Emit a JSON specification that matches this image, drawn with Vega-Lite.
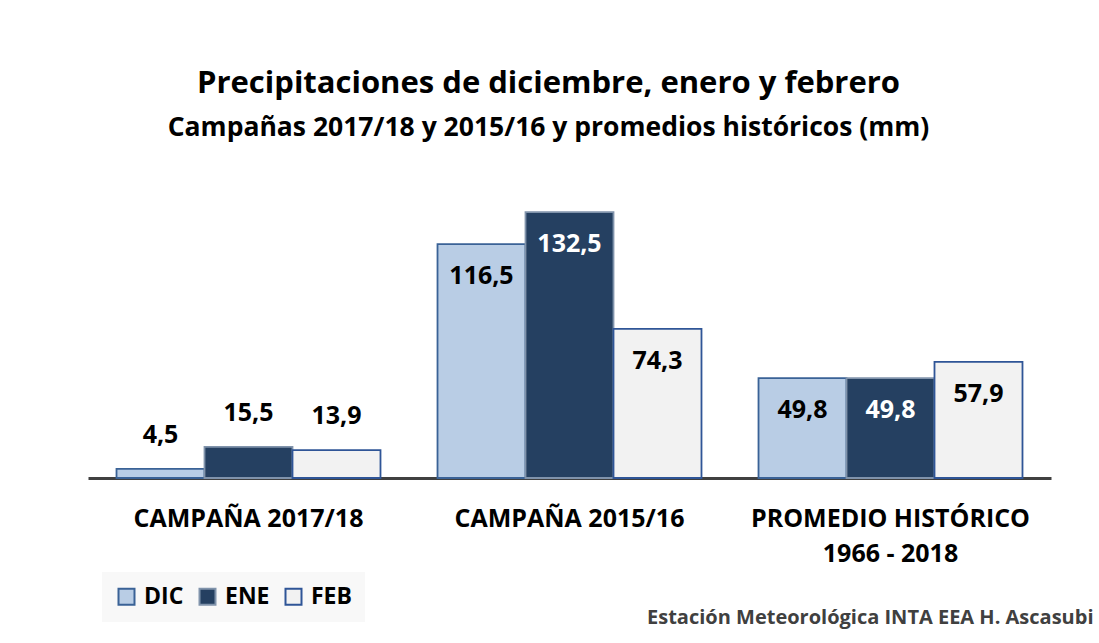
{
  "$schema": "https://vega.github.io/schema/vega-lite/v6.json",
  "width": 963,
  "height": 281,
  "autosize": {"type": "none"},
  "padding": {"left": 88, "top": 197, "right": 48, "bottom": 165},
  "background": "white",
  "title": {
    "text": "Precipitaciones de diciembre, enero y febrero",
    "subtitle": "Campañas 2017/18 y 2015/16 y promedios históricos (mm)",
    "anchor": "middle",
    "frame": "group",
    "dx": -21,
    "offset": 55,
    "font": "Open Sans",
    "fontSize": 31,
    "fontWeight": "bold",
    "color": "#000000",
    "subtitleFont": "Open Sans",
    "subtitleFontSize": 26.5,
    "subtitleFontWeight": "bold",
    "subtitleColor": "#000000",
    "subtitlePadding": 15
  },
  "data": {
    "values": [
      {"grupo": "CAMPAÑA 2017/18", "serie": "DIC", "valor": 4.5},
      {"grupo": "CAMPAÑA 2017/18", "serie": "ENE", "valor": 15.5},
      {"grupo": "CAMPAÑA 2017/18", "serie": "FEB", "valor": 13.9},
      {"grupo": "CAMPAÑA 2015/16", "serie": "DIC", "valor": 116.5},
      {"grupo": "CAMPAÑA 2015/16", "serie": "ENE", "valor": 132.5},
      {"grupo": "CAMPAÑA 2015/16", "serie": "FEB", "valor": 74.3},
      {"grupo": "PROMEDIO HISTÓRICO|1966 - 2018", "serie": "DIC", "valor": 49.8},
      {"grupo": "PROMEDIO HISTÓRICO|1966 - 2018", "serie": "ENE", "valor": 49.8},
      {"grupo": "PROMEDIO HISTÓRICO|1966 - 2018", "serie": "FEB", "valor": 57.9}
    ]
  },
  "encoding": {
    "x": {
      "field": "grupo",
      "type": "nominal",
      "sort": null,
      "scale": {"paddingInner": 0, "paddingOuter": 0},
      "axis": {
        "labelAngle": 0,
        "labelExpr": "split(datum.label, '|')",
        "labelLimit": 0,
        "labelFont": "Open Sans",
        "labelFontSize": 25,
        "labelFontWeight": "bold",
        "labelColor": "#000000",
        "labelPadding": 28,
        "labelLineHeight": 35,
        "labelBaseline": "top",
        "ticks": false,
        "domain": true,
        "domainColor": "#404040",
        "domainWidth": 3,
        "grid": false,
        "title": "Estación Meteorológica INTA EEA H. Ascasubi",
        "titleFont": "Open Sans",
        "titleFontSize": 20,
        "titleFontWeight": "bold",
        "titleColor": "#404040",
        "titleAlign": "right",
        "titleAnchor": "end",
        "titleX": 1005,
        "titleY": 145,
        "titleBaseline": "alphabetic"
      }
    },
    "xOffset": {
      "field": "serie",
      "type": "nominal",
      "sort": ["DIC", "ENE", "FEB"],
      "scale": {"paddingInner": 0, "paddingOuter": 0.324}
    },
    "y": {
      "field": "valor",
      "type": "quantitative",
      "scale": {"domain": [0, 140], "nice": false, "zero": true},
      "axis": null
    }
  },
  "layer": [
    {
      "mark": {"type": "bar", "strokeWidth": 1.8, "cornerRadius": 0},
      "encoding": {
        "fill": {
          "field": "serie",
          "type": "nominal",
          "sort": ["DIC", "ENE", "FEB"],
          "scale": {"domain": ["DIC", "ENE", "FEB"], "range": ["#b9cde5", "#254061", "#f2f2f2"]},
          "legend": {
            "title": null,
            "orient": "none",
            "direction": "horizontal",
            "legendX": 14,
            "legendY": 375,
            "fillColor": "#f8f8f8",
            "padding": 13,
            "symbolType": "square",
            "symbolSize": 256,
            "symbolStrokeWidth": 2,
            "labelFont": "Open Sans",
            "labelFontSize": 23,
            "labelFontWeight": "bold",
            "labelColor": "#000000",
            "labelOffset": 6,
            "columnPadding": 11
          }
        },
        "stroke": {
          "field": "serie",
          "type": "nominal",
          "sort": ["DIC", "ENE", "FEB"],
          "scale": {"domain": ["DIC", "ENE", "FEB"], "range": ["#3a6296", "#8093ab", "#2f5597"]},
          "legend": {
            "title": null,
            "orient": "none",
            "direction": "horizontal",
            "legendX": 14,
            "legendY": 375,
            "fillColor": "#f8f8f8",
            "padding": 13,
            "symbolType": "square",
            "symbolSize": 256,
            "symbolStrokeWidth": 2,
            "labelFont": "Open Sans",
            "labelFontSize": 23,
            "labelFontWeight": "bold",
            "labelColor": "#000000",
            "labelOffset": 6,
            "columnPadding": 11
          }
        }
      }
    },
    {
      "transform": [{"filter": "datum.valor < 30"}],
      "mark": {"type": "text", "font": "Open Sans", "fontSize": 25, "fontWeight": "bold", "baseline": "middle", "dy": -34, "color": "#000000"},
      "encoding": {
        "text": {"field": "valor", "type": "quantitative", "format": ".1f"}
      }
    },
    {
      "transform": [{"filter": "datum.valor >= 30"}],
      "mark": {"type": "text", "font": "Open Sans", "fontSize": 25, "fontWeight": "bold", "baseline": "middle", "dy": 32},
      "encoding": {
        "text": {"field": "valor", "type": "quantitative", "format": ".1f"},
        "color": {
          "condition": {"test": "datum.serie === 'ENE'", "value": "#ffffff"},
          "value": "#000000"
        }
      }
    }
  ],
  "config": {
    "view": {"stroke": null},
    "locale": {
      "number": {"decimal": ",", "thousands": ".", "grouping": [3], "currency": ["", " €"]}
    }
  }
}
